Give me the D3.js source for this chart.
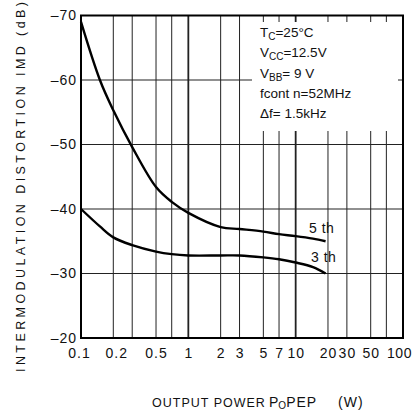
<!DOCTYPE html>
<html>
<head>
<meta charset="utf-8">
<script src="https://cdn.jsdelivr.net/npm/d3@7"></script>
<style>
  body { margin: 0; background: #fff; }
  text { font-family: "Liberation Sans", Arial, sans-serif; fill: #111; }
</style>
</head>
<body>
<script>
// data
const power5 = [0.1, 0.15, 0.2, 0.3, 0.5, 0.7, 1, 2, 3, 5, 7, 10, 14.5, 19];
const imd5   = [-69, -60, -55.3, -49.6, -43.4, -41.1, -39.4, -37.2, -36.9, -36.5, -36.1, -35.8, -35.4, -35.0];
const power3 = [0.1, 0.15, 0.2, 0.3, 0.5, 0.7, 1, 2, 3, 5, 7, 10, 14.5, 19];
const imd3   = [-40, -37.3, -35.6, -34.4, -33.4, -33.0, -32.8, -32.8, -32.8, -32.5, -32.2, -31.7, -31.0, -30];

const xGrid   = [0.2, 0.3, 0.5, 0.7, 1, 2, 3, 5, 7, 10, 20, 30, 50, 70];
const xLabels = [0.1, 0.2, 0.5, 1, 2, 3, 5, 7, 10, 20, 30, 50, 100];
const yTicks  = [-70, -60, -50, -40, -30, -20];
const yGrid   = [-60, -50, -40, -30];

const conditions = [
    ['T', 'C', '=25°C'],
    ['V', 'CC', '=12.5V'],
    ['V', 'BB', '= 9 V'],
    ['fcont n', '', '=52MHz'],
    ['Δf= 1.5kHz', '', '']
];

function draw() {
    const width  = 415;
    const height = 412;

    const svg = d3.select('body').append('svg')
        .attr('width', width)
        .attr('height', height);

    const X = d3.scaleLog()
        .domain([0.1, 100])
        .range([81, 403]);

    const Y = d3.scaleLinear()
        .domain([-20, -70])
        .range([338, 15.5]);

    // grid
    svg.append('g')
        .selectAll('line')
        .data(xGrid)
        .join('line')
        .attr('x1', d => X(d)).attr('x2', d => X(d))
        .attr('y1', Y(-70)).attr('y2', Y(-20))
        .attr('stroke', '#222')
        .attr('stroke-width', d => (d === 1 || d === 10) ? 1.8 : 1);

    svg.append('g')
        .selectAll('line')
        .data(yGrid)
        .join('line')
        .attr('x1', X(0.1)).attr('x2', X(100))
        .attr('y1', d => Y(d)).attr('y2', d => Y(d))
        .attr('stroke', '#222')
        .attr('stroke-width', 1.2);

    // white box behind the conditions
    svg.append('rect')
        .attr('x', 252).attr('y', 22)
        .attr('width', 146).attr('height', 109)
        .attr('fill', '#fff');

    // frame
    svg.append('rect')
        .attr('x', X(0.1)).attr('y', Y(-70))
        .attr('width', X(100) - X(0.1))
        .attr('height', Y(-20) - Y(-70))
        .attr('fill', 'none')
        .attr('stroke', '#000')
        .attr('stroke-width', 2);

    // axes
    const yAxis = d3.axisLeft(Y)
        .tickValues(yTicks)
        .tickSize(0)
        .tickPadding(4)
        .tickFormat(d => '\u2013' + Math.abs(d));

    svg.append('g')
        .attr('transform', `translate(${X(0.1)} 0)`)
        .call(yAxis)
        .call(g => g.select('.domain').remove())
        .call(g => g.selectAll('text')
            .attr('font-size', 14)
            .attr('letter-spacing', 1)
            .attr('font-family', '"Liberation Sans", Arial, sans-serif')
            .attr('fill', '#111'));

    const xAxis = d3.axisBottom(X)
        .tickValues(xLabels)
        .tickSize(0)
        .tickPadding(10)
        .tickFormat(d => String(d));

    svg.append('g')
        .attr('transform', `translate(0 ${Y(-20)})`)
        .call(xAxis)
        .call(g => g.select('.domain').remove())
        .call(g => g.selectAll('text')
            .attr('font-size', 14)
            .attr('letter-spacing', d => d === 100 ? 0.5 : 1)
            .attr('font-family', '"Liberation Sans", Arial, sans-serif')
            .attr('fill', '#111')
            .attr('dx', d => d === 0.1 ? -2 : d === 0.2 ? 3 : d === 100 ? -4 : 0));

    // curves
    const line = d3.line()
        .x(d => X(d[0]))
        .y(d => Y(d[1]))
        .curve(d3.curveCatmullRom.alpha(0.5));

    svg.append('path')
        .attr('d', line(d3.zip(power5, imd5)))
        .attr('fill', 'none')
        .attr('stroke', '#000')
        .attr('stroke-width', 2.4);

    svg.append('path')
        .attr('d', line(d3.zip(power3, imd3)))
        .attr('fill', 'none')
        .attr('stroke', '#000')
        .attr('stroke-width', 2.4);

    svg.append('text')
        .attr('x', 309).attr('y', 233)
        .attr('font-size', 14)
        .attr('letter-spacing', 0.5)
        .text('5 th');

    svg.append('text')
        .attr('x', 311).attr('y', 262)
        .attr('font-size', 14)
        .attr('letter-spacing', 0.5)
        .text('3 th');

    // conditions
    const cond = svg.append('g');
    conditions.forEach((c, i) => {
        const t = cond.append('text')
            .attr('x', 260)
            .attr('y', 37 + i * 20.3)
            .attr('font-size', 13.5);
        t.append('tspan').text(c[0]);
        if (c[1]) t.append('tspan').attr('font-size', 10).attr('dy', 3).text(c[1]);
        if (c[2]) t.append('tspan').attr('dy', c[1] ? -3 : 0).text(c[2]);
    });

    // axis titles
    svg.append('text')
        .attr('transform', 'translate(25 372) rotate(-90)')
        .attr('font-size', 12.5)
        .attr('textLength', 370)
        .attr('lengthAdjust', 'spacing')
        .text('INTERMODULATION DISTORTION  IMD (dB)');

    const xt = svg.append('text')
        .attr('y', 407)
        .attr('font-size', 12.5);
    xt.append('tspan').attr('x', 152).attr('letter-spacing', 1).text('OUTPUT POWER');
    xt.append('tspan').attr('x', 269).attr('font-size', 14).text('P');
    xt.append('tspan').attr('font-size', 10).attr('dy', 2).text('O');
    xt.append('tspan').attr('font-size', 14).attr('dy', -2).attr('letter-spacing', 1).text('PEP');
    xt.append('tspan').attr('x', 338).attr('font-size', 14).attr('letter-spacing', 1).text('(W)');
}

draw();
</script>
</body>
</html>
